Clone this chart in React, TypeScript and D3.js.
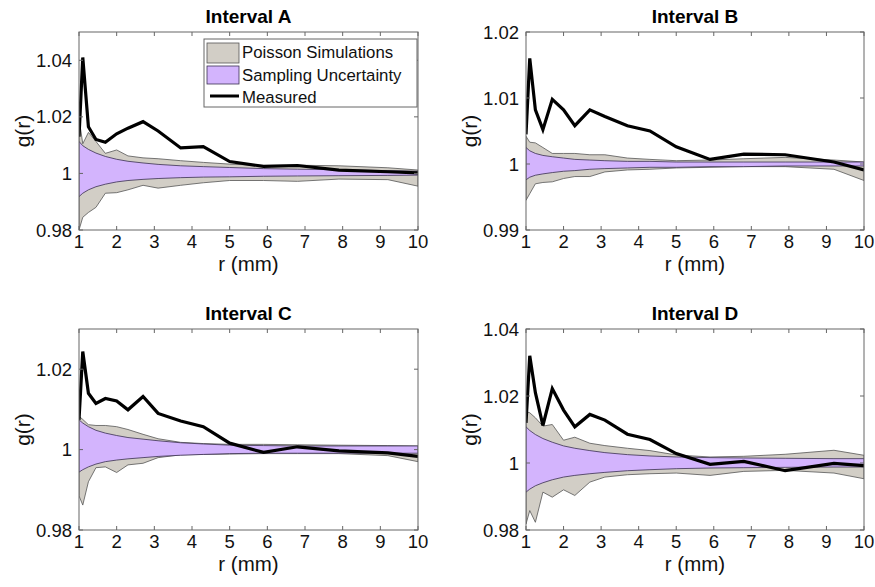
import React from "react";
import * as d3 from "d3";

const rGrid = [1, 1.1, 1.25, 1.45, 1.7, 2.0, 2.3, 2.7, 3.1, 3.7, 4.3, 5.0, 5.9, 6.8, 7.9, 9.2, 10];
const xTicks = [1, 2, 3, 4, 5, 6, 7, 8, 9, 10];

const measuredA = [1.013, 1.041, 1.0165, 1.012, 1.011, 1.014, 1.016, 1.0183, 1.015, 1.009, 1.0095, 1.0042, 1.0025, 1.0028, 1.0012, 1.0006, 1.0002];
const sampUpA = [1.0113, 1.0098, 1.0085, 1.0072, 1.006, 1.005, 1.0043, 1.0037, 1.0032, 1.0027, 1.0024, 1.0021, 1.0017, 1.0015, 1.0013, 1.001, 1.0008];
const sampLoA = [0.9918, 0.993, 0.9942, 0.9953, 0.9962, 0.997, 0.9975, 0.9979, 0.9982, 0.9985, 0.9987, 0.9988, 0.999, 0.9991, 0.9992, 0.9993, 0.9994];
const poisUpA = [1.0195, 1.0105, 1.0145, 1.0113, 1.0071, 1.0083, 1.0062, 1.0055, 1.0052, 1.0045, 1.0039, 1.0033, 1.0028, 1.0029, 1.0027, 1.002, 1.0012];
const poisLoA = [0.98, 0.9845, 0.9862, 0.988, 0.993, 0.9932, 0.9942, 0.9958, 0.9948, 0.9958, 0.9967, 0.9975, 0.9975, 0.9972, 0.998, 0.9978, 0.9955];

const measuredB = [1.0045, 1.016, 1.0082, 1.0052, 1.0098, 1.0082, 1.0058, 1.0082, 1.0072, 1.0058, 1.005, 1.0026, 1.0007, 1.0015, 1.0014, 1.0003, 0.9991];
const sampUpB = [1.0025, 1.002, 1.0016, 1.0013, 1.0011, 1.0009, 1.0007, 1.0006, 1.0005, 1.0004, 1.0004, 1.0003, 1.0003, 1.0003, 1.0003, 1.0003, 1.0003];
const sampLoB = [0.9976, 0.998, 0.9983, 0.9985, 0.9987, 0.9989, 0.999, 0.9992, 0.9993, 0.9994, 0.9995, 0.9995, 0.9996, 0.9996, 0.9997, 0.9997, 0.9997];
const poisUpB = [1.0042, 1.0033, 1.0032, 1.0025, 1.0016, 1.0016, 1.0016, 1.0014, 1.0014, 1.0009, 1.0007, 1.0005, 1.0006, 1.0008, 1.001, 1.0006, 1.0003];
const poisLoB = [0.9945, 0.9955, 0.997, 0.9972, 0.9973, 0.9978, 0.9981, 0.9981, 0.9988, 0.9991, 0.9992, 0.9994, 0.9995, 0.9996, 0.9996, 0.9992, 0.9975];

const measuredC = [1.0074, 1.0244, 1.014, 1.0115, 1.0127, 1.0121, 1.0099, 1.0132, 1.009, 1.0071, 1.0057, 1.0016, 0.9993, 1.0007, 0.9997, 0.9992, 0.9983];
const sampUpC = [1.0074, 1.0066, 1.0057, 1.0048, 1.0041, 1.0035, 1.003, 1.0026, 1.0022, 1.0017, 1.0014, 1.0011, 1.001, 1.0009, 1.0009, 1.0009, 1.0009];
const sampLoC = [0.9944, 0.995, 0.9957, 0.9964, 0.997, 0.9974, 0.9977, 0.998, 0.9983, 0.9986, 0.9988, 0.999, 0.9991, 0.9991, 0.9991, 0.9991, 0.9991];
const poisUpC = [1.0083, 1.0075, 1.0062, 1.006, 1.006, 1.0057, 1.005, 1.0038, 1.0027, 1.0018, 1.0015, 1.0013, 1.0013, 1.0012, 1.0011, 1.001, 1.0009];
const poisLoC = [0.9885, 0.9862, 0.992, 0.9955, 0.9957, 0.9943, 0.9962, 0.9966, 0.998, 0.9987, 0.9988, 0.9989, 0.999, 0.999, 0.999, 0.9985, 0.997];

const measuredD = [1.012, 1.032, 1.021, 1.0112, 1.0222, 1.0158, 1.0108, 1.0145, 1.0128, 1.0086, 1.007, 1.0028, 0.9996, 1.0005, 0.9977, 0.9999, 0.9992];
const sampUpD = [1.0108, 1.0097, 1.0085, 1.0073, 1.0062, 1.0051, 1.0044, 1.0037, 1.0031, 1.0025, 1.0021, 1.0018, 1.0016, 1.0015, 1.0014, 1.0013, 1.0013];
const sampLoD = [0.9913, 0.9922, 0.9932, 0.9941, 0.995, 0.9958, 0.9963, 0.9968, 0.9972, 0.9977, 0.998, 0.9983, 0.9985, 0.9986, 0.9987, 0.9988, 0.9988];
const poisUpD = [1.0153, 1.015, 1.0135, 1.011, 1.0115, 1.0068, 1.0077, 1.0059, 1.0052, 1.0044, 1.0037, 1.0024, 1.0018, 1.002, 1.0026, 1.0038, 1.0023];
const poisLoD = [0.9818, 0.9858, 0.9823, 0.9913, 0.9898, 0.992, 0.9903, 0.9943, 0.9958, 0.9965, 0.9968, 0.997, 0.9963, 0.9975, 0.9978, 0.997, 0.9953];

const yTicksA = [0.98, 1.0, 1.02, 1.04];
const yTicksB = [0.99, 1.0, 1.01, 1.02];
const yTicksC = [0.98, 1.0, 1.02];
const yTicksD = [0.98, 1.0, 1.02, 1.04];

const legendLabels = ["Poisson Simulations", "Sampling Uncertainty", "Measured"];

const GRAY = "#d2cec6";
const PURPLE = "#d3b4fd";
const EDGE = "#555555";
const AXIS = "#666666";
const FONT = "'Liberation Sans', Arial, Helvetica, sans-serif";

type PanelProps = {
  title: string;
  left: number; right: number; top: number; bottom: number;
  yDomain: [number, number];
  yTicks: number[];
  measured: number[]; sampUp: number[]; sampLo: number[]; poisUp: number[]; poisLo: number[];
  legend?: boolean;
};

function Panel(p: PanelProps) {
  const x = d3.scaleLinear().domain([1, 10]).range([p.left, p.right]);
  const y = d3.scaleLinear().domain(p.yDomain).range([p.bottom, p.top]);
  const idx = rGrid.map((_, i) => i);
  const area = (up: number[], lo: number[]) =>
    d3.area<number>().x((i) => x(rGrid[i])).y0((i) => y(lo[i])).y1((i) => y(up[i]))(idx) || "";
  const line = (v: number[]) => d3.line<number>().x((i) => x(rGrid[i])).y((i) => y(v[i]))(idx) || "";
  const fmt = (v: number) => String(+v.toFixed(2));
  const tl = 4;
  const clipId = "clip-" + p.title.replace(/\s/g, "");
  const lx = 204, ly = 39;
  return (
    <g>
      <defs>
        <clipPath id={clipId}>
          <rect x={p.left} y={p.top} width={p.right - p.left} height={p.bottom - p.top} />
        </clipPath>
      </defs>
      <g clipPath={`url(#${clipId})`}>
        <path d={area(p.poisUp, p.poisLo)} fill={GRAY} stroke={EDGE} strokeWidth={0.8} />
        <path d={area(p.sampUp, p.sampLo)} fill={PURPLE} stroke="#3a3050" strokeWidth={0.8} />
        <path d={line(p.measured)} fill="none" stroke="#000" strokeWidth={3.2} strokeLinejoin="miter" />
      </g>
      <rect x={p.left} y={p.top} width={p.right - p.left} height={p.bottom - p.top} fill="none" stroke={AXIS} strokeWidth={1} />
      {xTicks.map((t) => (
        <g key={"xt" + t}>
          <line x1={x(t)} x2={x(t)} y1={p.bottom} y2={p.bottom - tl} stroke={AXIS} />
          <line x1={x(t)} x2={x(t)} y1={p.top} y2={p.top + tl} stroke={AXIS} />
          <text x={x(t)} y={p.bottom + 18} textAnchor="middle" fontSize={18.5} fontFamily={FONT} fill="#111">{t}</text>
        </g>
      ))}
      {p.yTicks.map((t) => (
        <g key={"yt" + t}>
          <line x1={p.left} x2={p.left + tl} y1={y(t)} y2={y(t)} stroke={AXIS} />
          <line x1={p.right} x2={p.right - tl} y1={y(t)} y2={y(t)} stroke={AXIS} />
          <text x={p.left - 7} y={y(t) + 6.5} textAnchor="end" fontSize={18.5} fontFamily={FONT} fill="#111">{fmt(t)}</text>
        </g>
      ))}
      <text x={(p.left + p.right) / 2} y={p.top - 9.5} textAnchor="middle" fontSize={19} fontWeight="bold" fontFamily={FONT} fill="#000">{p.title}</text>
      <text x={(p.left + p.right) / 2} y={p.bottom + 41} textAnchor="middle" fontSize={20.5} fontFamily={FONT} fill="#111">r (mm)</text>
      <text transform={`translate(${p.left - 49},${(p.top + p.bottom) / 2}) rotate(-90)`} textAnchor="middle" fontSize={21} fontFamily={FONT} fill="#111">g(r)</text>
      {p.legend && (
        <g>
          <rect x={lx} y={ly} width={p.right - lx - 1} height={68} fill="#fff" stroke={AXIS} />
          <rect x={lx + 3} y={ly + 4} width={32} height={20} fill={GRAY} stroke={EDGE} strokeWidth={0.8} />
          <rect x={lx + 3} y={ly + 27} width={32} height={18} fill={PURPLE} stroke="#3a3050" strokeWidth={0.8} />
          <line x1={lx + 6} x2={lx + 35} y1={ly + 57} y2={ly + 57} stroke="#000" strokeWidth={3} />
          {legendLabels.map((s, i) => (
            <text key={s} x={lx + 38} y={ly + 19 + i * 22.5} fontSize={16.8} fontFamily={FONT} fill="#111">{s}</text>
          ))}
        </g>
      )}
    </g>
  );
}

export default function App() {
  return (
    <svg width={875} height={587} style={{ position: "absolute", left: 0, top: 0, background: "#fff" }}>
      <rect width={875} height={587} fill="#fff" />
      <Panel title="Interval A" left={79} right={418} top={32} bottom={230} yDomain={[0.98, 1.05]} yTicks={yTicksA}
        measured={measuredA} sampUp={sampUpA} sampLo={sampLoA} poisUp={poisUpA} poisLo={poisLoA} legend />
      <Panel title="Interval B" left={526} right={864} top={32} bottom={230} yDomain={[0.99, 1.02]} yTicks={yTicksB}
        measured={measuredB} sampUp={sampUpB} sampLo={sampLoB} poisUp={poisUpB} poisLo={poisLoB} />
      <Panel title="Interval C" left={79} right={418} top={329} bottom={530} yDomain={[0.98, 1.03]} yTicks={yTicksC}
        measured={measuredC} sampUp={sampUpC} sampLo={sampLoC} poisUp={poisUpC} poisLo={poisLoC} />
      <Panel title="Interval D" left={526} right={864} top={329} bottom={530} yDomain={[0.98, 1.04]} yTicks={yTicksD}
        measured={measuredD} sampUp={sampUpD} sampLo={sampLoD} poisUp={poisUpD} poisLo={poisLoD} />
    </svg>
  );
}
